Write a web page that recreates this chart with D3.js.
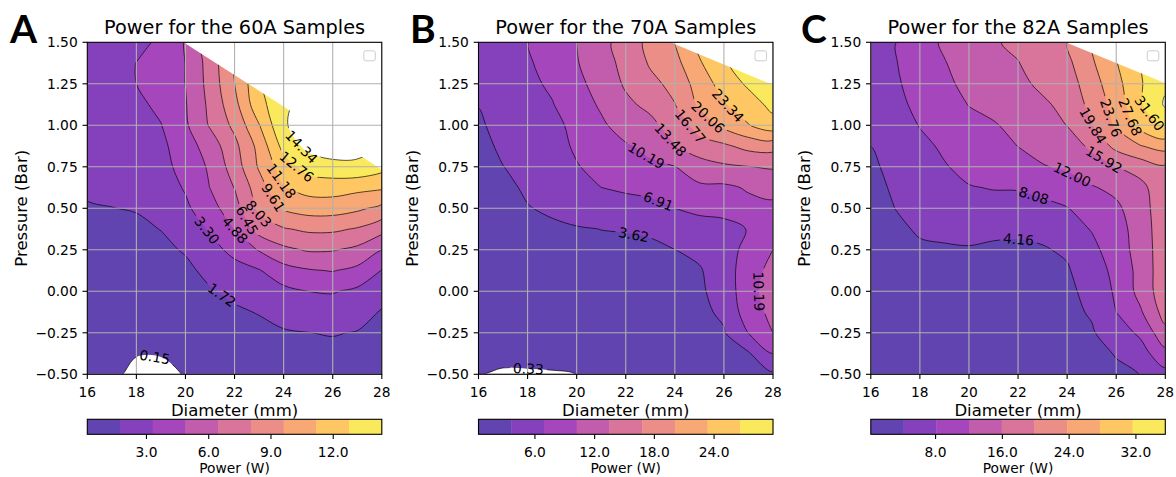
<!DOCTYPE html>
<html>
<head>
<meta charset="utf-8">
<script src="https://cdn.jsdelivr.net/npm/d3@7"></script>
<style>
  html, body { margin: 0; padding: 0; background: #fff; }
  svg { display: block; font-family: "DejaVu Sans", sans-serif; }
</style>
</head>
<body>
<svg id="chart" width="1176" height="477"></svg>
<script>
// ---- grid axes: diameter columns (mm) and pressure rows (bar, top row first) ----
const diameters = [16, 17, 18, 19, 20, 21, 22, 23, 24, 25, 26, 27, 28];
const pressures = [1.5, 1.375, 1.25, 1.125, 1.0, 0.875, 0.75, 0.625, 0.5, 0.375, 0.25, 0.125, 0, -0.125, -0.25, -0.375, -0.5];
const xTicks = [16, 18, 20, 22, 24, 26, 28];
const yTicks = [-0.5, -0.25, 0, 0.25, 0.5, 0.75, 1.0, 1.25, 1.5];

// ---- power (W) on the grid; null = well outside the sampled region ----
const power60A = [
  [2.4, 2.6, 2.9, 3.55, 5.0, 7.3, 9.9, null, null, null, null, null, null],
  [2.35, 2.6, 3.32, 4.0, 4.9, 7.1, 9.8, 12.7, null, null, null, null, null],
  [2.3, 2.6, 3.3, 4.0, 4.9, 7.0, 9.6, 12.5, 13.8, null, null, null, null],
  [2.25, 2.55, 2.95, 3.65, 4.78, 6.8, 9.1, 12.3, 13.8, 15.2, 15.4, null, null],
  [2.2, 2.45, 2.75, 3.25, 4.65, 6.6, 8.4, 11.1, 14.2, 15.0, 15.5, 15.0, null],
  [2.1, 2.35, 2.6, 2.95, 4.15, 5.6, 7.6, 10.1, 13.3, 14.8, 15.3, 14.9, 14.2],
  [2.0, 2.2, 2.45, 2.8, 3.84, 5.1, 7.2, 9.8, 12.0, 13.4, 13.8, 14.0, 13.3],
  [1.85, 2.0, 2.2, 2.5, 3.45, 4.9, 6.5, 8.9, 11.1, 11.8, 11.9, 11.6, 11.4],
  [1.65, 1.7, 1.8, 2.15, 3.0, 4.3, 5.8, 8.4, 9.8, 10.3, 10.3, 9.9, 9.2],
  [1.4, 1.4, 1.45, 1.75, 2.5, 3.45, 4.9, 7.1, 7.9, 8.3, 8.3, 7.9, 7.0],
  [1.2, 1.15, 1.1, 1.4, 1.85, 2.8, 3.7, 5.0, 6.1, 6.6, 6.55, 6.1, 4.9],
  [1.0, 0.95, 0.85, 1.05, 1.4, 2.1, 2.8, 3.2, 4.3, 4.75, 4.95, 4.5, 3.25],
  [0.9, 0.8, 0.65, 0.8, 1.05, 1.6, 2.05, 2.5, 2.9, 3.3, 3.4, 3.0, 2.3],
  [0.8, 0.65, 0.5, 0.6, 0.8, 1.2, 1.5, 1.8, 2.2, 2.5, 2.55, 2.35, 1.6],
  [0.7, 0.5, 0.35, 0.4, 0.55, 0.85, 1.1, 1.3, 1.6, 1.7, 1.8, 1.65, 1.3],
  [0.6, 0.4, 0.2, 0.2, 0.35, 0.6, 0.8, 0.95, 1.2, 1.3, 1.35, 1.3, 1.1],
  [0.5, 0.35, -0.1, -0.1, 0.2, 0.45, 0.6, 0.75, 0.95, 1.0, 1.1, 1.15, 0.95]
];
const power70A = [
  [5.3, 5.8, 6.85, 8.2, 10.2, 12.4, 15.0, 17.6, 20.2, 24.2, 27.2, null, null],
  [5.0, 5.6, 6.6, 7.9, 10.0, 12.0, 14.5, 17.1, 19.0, 23.0, 26.0, 28.8, 29.6],
  [4.6, 5.3, 6.2, 7.4, 9.4, 11.4, 13.9, 16.0, 17.6, 21.6, 24.6, 27.2, 28.8],
  [3.7, 5.0, 5.8, 6.75, 8.7, 10.6, 12.8, 14.3, 16.7, 20.6, 23.1, 25.0, 27.6],
  [3.2, 4.6, 5.3, 5.9, 7.9, 9.7, 11.5, 12.6, 15.0, 18.0, 20.9, 23.2, 25.3],
  [2.8, 4.1, 4.8, 5.6, 7.4, 8.9, 9.9, 10.9, 13.4, 15.6, 16.2, 17.8, 18.0],
  [2.5, 3.58, 4.4, 5.1, 6.7, 8.0, 8.8, 9.7, 10.1, 11.8, 13.0, 13.4, 13.8],
  [2.2, 3.0, 4.0, 4.6, 5.9, 6.9, 7.3, 7.6, 8.6, 9.7, 9.6, 10.5, 11.0],
  [2.0, 2.5, 3.5, 4.0, 4.9, 5.4, 5.9, 6.2, 6.9, 7.5, 7.6, 9.3, 9.6],
  [1.8, 2.1, 2.9, 3.2, 3.4, 3.65, 3.72, 3.9, 5.2, 5.8, 6.2, 7.0, 9.7],
  [1.6, 1.8, 2.4, 2.6, 2.8, 3.0, 3.2, 3.25, 3.6, 4.2, 5.6, 7.8, 10.2],
  [1.4, 1.6, 2.0, 2.2, 2.4, 2.65, 2.9, 2.95, 3.2, 3.4, 5.0, 9.0, 11.0],
  [1.2, 1.4, 1.7, 1.9, 2.1, 2.3, 2.55, 2.75, 2.95, 3.25, 4.6, 9.3, 11.4],
  [1.05, 1.2, 1.45, 1.6, 1.8, 2.0, 2.2, 2.45, 2.65, 3.0, 4.1, 8.7, 11.0],
  [0.9, 1.0, 1.2, 1.35, 1.5, 1.65, 1.85, 2.05, 2.3, 2.7, 3.4, 7.0, 10.2],
  [0.7, 0.8, 0.95, 1.05, 1.15, 1.3, 1.5, 1.7, 1.95, 2.3, 2.9, 3.3, 6.9],
  [0.32, 0.12, 0.1, 0.15, 0.34, 0.9, 1.2, 1.4, 1.6, 1.9, 2.4, 2.6, 3.2]
];
const power82A = [
  [7.0, 8.0, 10.2, 12.6, 14.5, 15.6, 16.6, 18.5, 19.8, 24.2, 28.4, 31.5, null],
  [6.6, 7.9, 9.9, 11.8, 13.8, 15.0, 15.8, 17.6, 18.9, 23.2, 27.5, 31.4, 34.0],
  [6.1, 7.6, 9.5, 11.2, 13.0, 14.2, 15.0, 16.7, 17.9, 22.0, 26.4, 31.3, 34.9],
  [5.6, 7.2, 8.9, 10.5, 12.1, 13.0, 14.0, 15.3, 17.0, 21.0, 25.3, 31.2, 36.0],
  [5.0, 6.7, 8.2, 9.6, 11.0, 11.7, 13.0, 14.2, 16.0, 19.6, 24.4, 29.2, 32.4],
  [4.17, 6.1, 7.4, 8.5, 9.8, 10.6, 12.05, 13.1, 14.2, 16.6, 21.0, 23.6, 25.2],
  [3.4, 5.4, 6.6, 7.9, 8.8, 9.6, 10.5, 11.8, 12.5, 14.3, 15.9, 17.6, 19.3],
  [2.8, 4.8, 5.9, 6.6, 7.95, 8.2, 8.2, 8.8, 10.4, 11.7, 12.9, 14.8, 18.8],
  [2.4, 4.2, 5.3, 5.8, 6.7, 7.2, 7.4, 7.4, 7.9, 10.0, 11.3, 14.2, 18.6],
  [2.1, 3.4, 4.6, 4.9, 5.0, 4.7, 4.6, 5.0, 6.4, 8.3, 10.4, 13.8, 18.5],
  [1.9, 2.8, 3.6, 3.8, 3.95, 3.75, 3.7, 3.9, 4.6, 7.0, 10.2, 13.5, 18.5],
  [1.7, 2.4, 3.0, 3.2, 3.4, 3.6, 3.6, 3.7, 3.85, 6.0, 9.2, 13.3, 18.5],
  [1.5, 2.1, 2.6, 2.8, 3.0, 3.2, 3.3, 3.4, 3.5, 5.1, 8.7, 13.3, 18.4],
  [1.35, 1.85, 2.3, 2.5, 2.7, 2.9, 3.0, 3.15, 3.3, 4.5, 8.1, 11.6, 17.5],
  [1.2, 1.6, 2.0, 2.2, 2.4, 2.6, 2.75, 2.9, 3.05, 3.8, 6.2, 8.8, 14.8],
  [1.05, 1.4, 1.75, 1.95, 2.15, 2.35, 2.5, 2.65, 2.8, 3.4, 4.3, 6.5, 10.8],
  [0.9, 1.2, 1.5, 1.7, 1.9, 2.1, 2.3, 2.45, 2.6, 3.1, 3.7, 4.2, 6.8]
];

// upper-right boundary of the sampled region: [diameter, pressure] from top edge to right edge
const sampledEdge60A = [[20, 1.5], [28, 0.74]];
const sampledEdge70A = [[23.93, 1.5], [28, 1.25]];
const sampledEdge82A = [[24.05, 1.5], [28, 1.26]];

// ---- contour levels and colour-bar ticks ----
const levels60A = [0.15, 1.72, 3.30, 4.88, 6.45, 8.03, 9.61, 11.18, 12.76, 14.34];
const levels70A = [0.33, 3.62, 6.91, 10.19, 13.48, 16.77, 20.06, 23.34, 26.63, 29.92];
const levels82A = [0.24, 4.16, 8.08, 12.00, 15.92, 19.84, 23.76, 27.68, 31.60, 35.52];
const cbarTicks60A = [3, 6, 9, 12];
const cbarTicks70A = [6, 12, 18, 24];
const cbarTicks82A = [8, 16, 24, 32];

// ---- inline label anchors: [level index, diameter, pressure] ----
const labels60A = [[0, 18.75, -0.40], [1, 21.54, -0.01], [2, 20.89, 0.37], [3, 22.0, 0.366], [4, 22.42, 0.42],
                   [5, 22.9, 0.46], [6, 23.31, 0.54], [7, 23.85, 0.66], [8, 24.53, 0.75], [9, 24.73, 0.87]];
const labels70A = [[0, 18.03, -0.476], [1, 22.31, 0.33], [2, 23.35, 0.55], [3, 22.85, 0.82], [4, 23.8, 0.91],
                   [5, 24.54, 0.98], [6, 25.36, 1.05], [7, 26.17, 1.12], [3, 27.32, 0.0]];
const labels82A = [[1, 22.01, 0.305], [2, 22.69, 0.60], [3, 24.19, 0.70], [4, 25.41, 0.77], [5, 25.07, 1.00],
                   [6, 25.69, 1.04], [7, 26.57, 1.05], [8, 27.25, 1.06]];

const panelLetters = ["A", "B", "C"];
const panelTitles = ["Power for the 60A Samples", "Power for the 70A Samples", "Power for the 82A Samples"];

const panels = [
  { grid: power60A, edge: sampledEdge60A, levels: levels60A, ticks: cbarTicks60A, labels: labels60A },
  { grid: power70A, edge: sampledEdge70A, levels: levels70A, ticks: cbarTicks70A, labels: labels70A },
  { grid: power82A, edge: sampledEdge82A, levels: levels82A, ticks: cbarTicks82A, labels: labels82A }
];

// ---- layout ----
const svg = d3.select("#chart");
const defs = svg.append("defs");
const plotW = 294.5, plotTop = 42.3, plotBottom = 374.3;
const lefts = [87.3, 478.5, 870.8];
const letterX = [10, 410, 801];
const cbTop = 419.3, cbH = 15;
const FILL_ALPHA = 0.75;
const fmtY = d3.format(".2f"), fmtCb = d3.format(".1f"), fmtLab = d3.format(".2f");
const closedCurve = d3.line().x(p => p.X).y(p => p.Y).curve(d3.curveCatmullRomClosed.alpha(0.5));
const openCurve = d3.line().x(p => p.X).y(p => p.Y).curve(d3.curveCatmullRom.alpha(0.5));

function bandColor(t) {
  const c = d3.rgb(d3.interpolatePlasma(t));
  return d3.rgb(255 - FILL_ALPHA * (255 - c.r), 255 - FILL_ALPHA * (255 - c.g), 255 - FILL_ALPHA * (255 - c.b)).formatHex();
}

panels.forEach((P, k) => {
  const left = lefts[k], right = left + plotW;
  const x = d3.scaleLinear().domain([16, 28]).range([left, right]);
  const y = d3.scaleLinear().domain([-0.5, 1.5]).range([plotBottom, plotTop]);
  const nx = diameters.length, ny = pressures.length;
  const flat = P.grid.flat().map(v => v == null ? NaN : v);
  const val = (i, j) => (i < 0 || i >= nx || j < 0 || j >= ny) ? NaN : flat[j * nx + i];
  const dStep = diameters[1] - diameters[0], pStep = pressures[1] - pressures[0];
  const toPx = (cx, cy) => [x(diameters[0] + (cx - 0.5) * dStep), y(pressures[0] + (cy - 0.5) * pStep)];
  const nBands = P.levels.length - 1;
  const colors = d3.range(nBands).map(i => bandColor((i + 0.5) / nBands));

  // marching squares from d3, then linear placement of each crossing between grid values
  const gen = d3.contours().size([nx, ny]).smooth(false);
  function rings(level) {
    const mp = gen.thresholds([level])(flat)[0];
    const out = mp.coordinates.flatMap(poly => poly.map(ring => ring.map(([cx, cy]) => {
      let px = cx, py = cy, real = true;
      if (Number.isInteger(cx)) {
        const j = Math.floor(cy);
        if (cx <= 0 || cx >= nx) real = false;
        else {
          const v0 = val(cx - 1, j), v1 = val(cx, j);
          if (isFinite(v0) && isFinite(v1)) px = cx - 0.5 + (level - v0) / (v1 - v0);
          else { real = false; px = isFinite(v0) ? cx - 0.5 : (isFinite(v1) ? cx + 0.5 : cx); }
        }
      }
      if (Number.isInteger(cy)) {
        const i = Math.floor(cx);
        if (cy <= 0 || cy >= ny) real = false;
        else {
          const v0 = val(i, cy - 1), v1 = val(i, cy);
          if (isFinite(v0) && isFinite(v1)) py = cy - 0.5 + (level - v0) / (v1 - v0);
          else { real = false; py = isFinite(v0) ? cy - 0.5 : (isFinite(v1) ? cy + 0.5 : cy); }
        }
      }
      const [X, Y] = toPx(px, py);
      return { X, Y, real };
    })));
    // drop repeated points (including the closing point)
    return out.map(r => {
      const q = [];
      r.forEach(p => {
        const last = q[q.length - 1];
        if (!last || Math.abs(last.X - p.X) > 0.01 || Math.abs(last.Y - p.Y) > 0.01) q.push(p);
        else if (p.real === false) last.real = false;
      });
      if (q.length > 1 && Math.abs(q[0].X - q[q.length - 1].X) < 0.01 && Math.abs(q[0].Y - q[q.length - 1].Y) < 0.01) {
        const e = q.pop();
        if (!e.real) q[0].real = false;
      }
      return q;
    }).filter(r => r.length > 2);
  }

  // runs of true crossings, each padded with its neighbouring boundary point
  function polylines(rs) {
    const out = [];
    rs.forEach(pts => {
      const m = pts.length;
      const start = pts.findIndex(p => !p.real);
      if (start < 0) { out.push({ closed: true, pts }); return; }
      let cur = null;
      for (let s = 1; s <= m; s++) {
        const p = pts[(start + s) % m];
        if (p.real) {
          if (!cur) cur = [pts[(start + s - 1) % m]];
          cur.push(p);
        } else if (cur) {
          cur.push(p);
          out.push({ closed: false, pts: cur });
          cur = null;
        }
      }
    });
    return out;
  }

  const levelRings = P.levels.map(L => rings(L));
  const levelLines = levelRings.map(rs => polylines(rs));

  // clip to plot area, and to the sampled region for the contour marks
  const clipId = "clip" + k, hullId = "hull" + k;
  defs.append("clipPath").attr("id", clipId)
    .append("rect").attr("x", left).attr("y", plotTop).attr("width", plotW).attr("height", plotBottom - plotTop);
  const hullPts = [[16, -0.5], [28, -0.5], ...P.edge.slice().reverse(), [16, 1.5]]
    .map(([d, p]) => x(d).toFixed(2) + "," + y(p).toFixed(2)).join(" ");
  defs.append("clipPath").attr("id", hullId).append("polygon").attr("points", hullPts);

  const plot = svg.append("g").attr("clip-path", `url(#${clipId})`);
  plot.append("rect").attr("x", left).attr("y", plotTop).attr("width", plotW).attr("height", plotBottom - plotTop).attr("fill", "#fff");
  const dataG = plot.append("g").attr("clip-path", `url(#${hullId})`).style("isolation", "isolate");

  // filled bands, painted from the lowest level upward; above the top level stays white
  const fills = dataG.append("g");
  levelRings.forEach((rs, i) => {
    fills.append("path").attr("d", rs.map(r => closedCurve(r)).join(""))
      .attr("fill", i < nBands ? colors[i] : "#fff")
      .attr("fill-rule", "evenodd");
  });

  // contour lines (masked under their labels)
  const maskId = "lineMask" + k;
  const mask = defs.append("mask").attr("id", maskId).attr("maskUnits", "userSpaceOnUse")
    .attr("x", 0).attr("y", 0).attr("width", 1176).attr("height", 477);
  mask.append("rect").attr("x", 0).attr("y", 0).attr("width", 1176).attr("height", 477).attr("fill", "#fff");

  const lineG = dataG.append("g").attr("mask", `url(#${maskId})`);
  levelLines.forEach(lines => {
    lines.forEach(L => {
      lineG.append("path")
        .attr("d", L.closed ? closedCurve(L.pts) : openCurve(L.pts))
        .attr("fill", "none").attr("stroke", "#000").attr("stroke-width", 0.8).attr("stroke-opacity", 0.85)
        .attr("stroke-linejoin", "round");
    });
  });

  // clean edge of the sampled region
  plot.append("path")
    .attr("d", "M" + P.edge.map(([d, p]) => x(d).toFixed(2) + "," + y(p).toFixed(2)).join("L"))
    .attr("fill", "none").attr("stroke", "#fff").attr("stroke-width", 2);

  // grid
  const grid = plot.append("g").attr("stroke", "#b0b0b0").attr("stroke-width", 1.1);
  xTicks.forEach(t => grid.append("line").attr("x1", x(t)).attr("x2", x(t)).attr("y1", plotTop).attr("y2", plotBottom));
  yTicks.forEach(t => grid.append("line").attr("x1", left).attr("x2", right).attr("y1", y(t)).attr("y2", y(t)));

  // inline contour labels
  const labG = plot.append("g");
  P.labels.forEach(([li, d, p]) => {
    const lines = levelLines[li].map(L => L.closed ? L.pts.concat([L.pts[0]]) : L.pts);
    const X0 = x(d), Y0 = y(p);
    let best = null;
    lines.forEach((pl, idx) => {
      for (let s = 0; s < pl.length - 1; s++) {
        const a = pl[s], b = pl[s + 1];
        const dx = b.X - a.X, dy = b.Y - a.Y, L2 = dx * dx + dy * dy;
        let t = L2 > 0 ? ((X0 - a.X) * dx + (Y0 - a.Y) * dy) / L2 : 0;
        t = Math.max(0, Math.min(1, t));
        const qx = a.X + t * dx, qy = a.Y + t * dy;
        const dist = Math.hypot(qx - X0, qy - Y0);
        if (!best || dist < best.dist) best = { dist, idx, s, t, qx, qy };
      }
    });
    let cxp = X0, cyp = Y0, ang = 0;
    if (best && best.dist < 30) {
      const pl = lines[best.idx];
      const cum = [0];
      for (let i = 1; i < pl.length; i++) cum.push(cum[i - 1] + Math.hypot(pl[i].X - pl[i - 1].X, pl[i].Y - pl[i - 1].Y));
      const total = cum[cum.length - 1];
      const at = a => {
        a = Math.max(0, Math.min(total, a));
        let i = 0;
        while (i < pl.length - 2 && cum[i + 1] < a) i++;
        const seg = cum[i + 1] - cum[i];
        const f = seg > 0 ? (a - cum[i]) / seg : 0;
        return [pl[i].X + f * (pl[i + 1].X - pl[i].X), pl[i].Y + f * (pl[i + 1].Y - pl[i].Y)];
      };
      const arc0 = cum[best.s] + best.t * (cum[best.s + 1] - cum[best.s]);
      const p1 = at(arc0 - 12), p2 = at(arc0 + 12);
      ang = Math.atan2(p2[1] - p1[1], p2[0] - p1[0]) * 180 / Math.PI;
      if (ang >= 90) ang -= 180; else if (ang < -90) ang += 180;
      cxp = best.qx; cyp = best.qy;
    }
    const tr = `translate(${cxp.toFixed(2)},${cyp.toFixed(2)}) rotate(${ang.toFixed(1)})`;
    const txt = labG.append("text").attr("transform", tr)
      .attr("text-anchor", "middle").attr("dominant-baseline", "central")
      .attr("font-size", 13.8).attr("fill", "#000").text(fmtLab(P.levels[li]));
    const w = txt.node().getComputedTextLength();
    mask.append("rect").attr("transform", tr)
      .attr("x", -w / 2 - 3).attr("y", -6.5).attr("width", w + 6).attr("height", 13).attr("fill", "#000");
  });

  // spines
  svg.append("rect").attr("x", left).attr("y", plotTop).attr("width", plotW).attr("height", plotBottom - plotTop)
    .attr("fill", "none").attr("stroke", "#000").attr("stroke-width", 1.1);

  // empty legend box
  svg.append("rect").attr("x", right - 18).attr("y", plotTop + 8.5).attr("width", 11.5).attr("height", 10).attr("rx", 2)
    .attr("fill", "#fff").attr("fill-opacity", 0.8).attr("stroke", "#cccccc").attr("stroke-width", 1);

  // axes ticks and labels
  const ax = svg.append("g").attr("font-size", 13.8).attr("fill", "#000");
  xTicks.forEach(t => {
    ax.append("line").attr("x1", x(t)).attr("x2", x(t)).attr("y1", plotBottom).attr("y2", plotBottom + 4.8)
      .attr("stroke", "#000").attr("stroke-width", 1.1);
    ax.append("text").attr("x", x(t)).attr("y", 396.7).attr("text-anchor", "middle").text(t);
  });
  yTicks.forEach(t => {
    ax.append("line").attr("x1", left - 4.8).attr("x2", left).attr("y1", y(t)).attr("y2", y(t))
      .attr("stroke", "#000").attr("stroke-width", 1.1);
    ax.append("text").attr("x", left - 9.6).attr("y", y(t) + 5).attr("text-anchor", "end").text(fmtY(t));
  });
  svg.append("text").attr("x", (left + right) / 2).attr("y", 416).attr("text-anchor", "middle")
    .attr("font-size", 16.5).text("Diameter (mm)");
  svg.append("text").attr("transform", `translate(${left - 60.5},${(plotTop + plotBottom) / 2}) rotate(-90)`)
    .attr("text-anchor", "middle").attr("font-size", 16.5).text("Pressure (Bar)");

  // title and panel letter
  svg.append("text").attr("x", (left + right) / 2).attr("y", 33.5).attr("text-anchor", "middle")
    .attr("font-size", 19.3).text(panelTitles[k]);
  svg.append("text").attr("x", letterX[k]).attr("y", 43.3).attr("font-family", "Lato, 'Open Sans', sans-serif")
    .attr("font-weight", 700).attr("font-size", 39).text(panelLetters[k]);

  // colour bar
  const cb = d3.scaleLinear().domain([P.levels[0], P.levels[nBands]]).range([left, right]);
  const cbG = svg.append("g");
  d3.range(nBands).forEach(i => {
    cbG.append("rect").attr("x", cb(P.levels[i])).attr("y", cbTop)
      .attr("width", cb(P.levels[i + 1]) - cb(P.levels[i]) + 0.4).attr("height", cbH).attr("fill", colors[i]);
  });
  cbG.append("rect").attr("x", left).attr("y", cbTop).attr("width", plotW).attr("height", cbH)
    .attr("fill", "none").attr("stroke", "#000").attr("stroke-width", 1.1);
  P.ticks.forEach(t => {
    cbG.append("line").attr("x1", cb(t)).attr("x2", cb(t)).attr("y1", cbTop + cbH).attr("y2", cbTop + cbH + 4.8)
      .attr("stroke", "#000").attr("stroke-width", 1.1);
    cbG.append("text").attr("x", cb(t)).attr("y", 457.3).attr("text-anchor", "middle").attr("font-size", 13.8).text(fmtCb(t));
  });
  cbG.append("text").attr("x", (left + right) / 2).attr("y", 473.3).attr("text-anchor", "middle")
    .attr("font-size", 13.8).text("Power (W)");
});
</script>
</body>
</html>
